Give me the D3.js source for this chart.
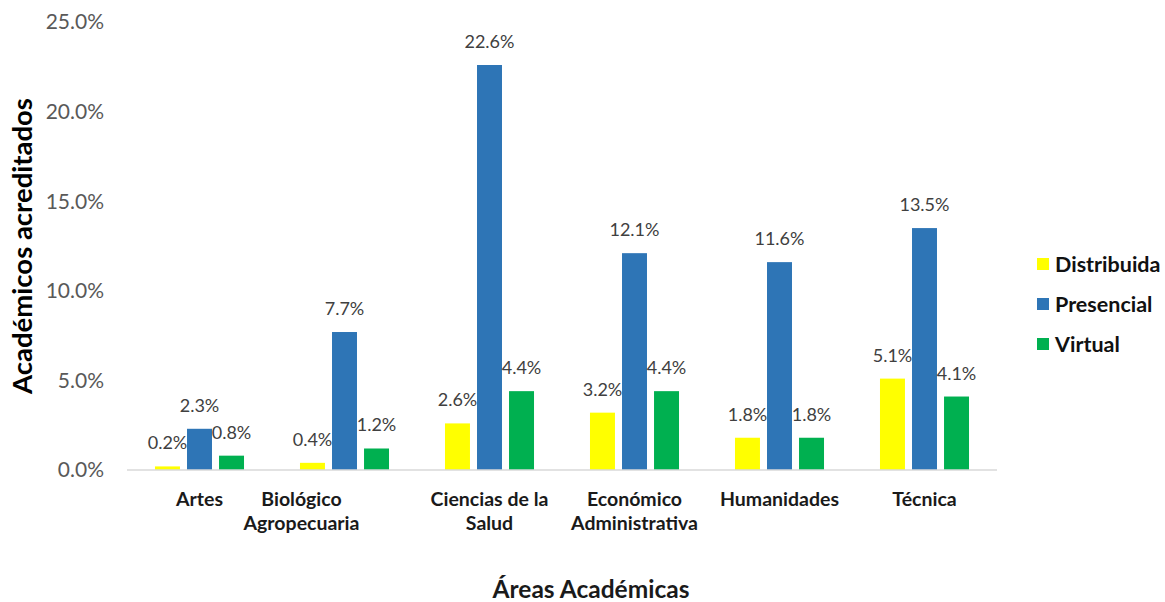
<!DOCTYPE html>
<html>
<head>
<meta charset="utf-8">
<script src="https://cdn.jsdelivr.net/npm/d3@7"></script>
<style>
  body { margin: 0; background: #fff; }
  text { font-family: Lato, "Open Sans", sans-serif; }
</style>
</head>
<body>
<script>
var areas = [["Artes"], ["Biológico", "Agropecuaria"], ["Ciencias de la", "Salud"],
             ["Económico", "Administrativa"], ["Humanidades"], ["Técnica"]];
var series = ["Distribuida", "Presencial", "Virtual"];
var distribuida = [0.2, 0.4, 2.6, 3.2, 1.8, 5.1];
var presencial = [2.3, 7.7, 22.6, 12.1, 11.6, 13.5];
var virtual = [0.8, 1.2, 4.4, 4.4, 1.8, 4.1];
var yTicks = [0, 5, 10, 15, 20, 25];
var colors = ["#FFFF00", "#2E75B6", "#00B050"];

var width = 1165, height = 602;
var margin = {top: 22, left: 127, right: 168, bottom: 132};

var svg = d3.select("body").append("svg")
  .attr("width", width)
  .attr("height", height);

var rows = areas.map(function(a, i) {
  return {key: a.join(" "), lines: a, values: [distribuida[i], presencial[i], virtual[i]]};
});

var x0 = d3.scaleBand()
  .domain(rows.map(function(d) { return d.key; }))
  .range([margin.left, width - margin.right])
  .paddingInner(0.386)
  .paddingOuter(0.193);

var x1 = d3.scaleBand()
  .domain(series)
  .range([0, x0.bandwidth()])
  .paddingInner(0.22);

var y = d3.scaleLinear()
  .domain([0, 25])
  .range([height - margin.bottom, margin.top]);

// y tick labels (no axis line)
svg.append("g")
  .selectAll("text")
  .data(yTicks)
  .enter().append("text")
  .attr("x", 104)
  .attr("y", function(d) { return y(d); })
  .attr("dy", "0.35em")
  .attr("text-anchor", "end")
  .attr("font-size", 21)
  .attr("fill", "#595959")
  .text(function(d) { return d.toFixed(1) + "%"; });

// bars
var groups = svg.append("g")
  .selectAll("g")
  .data(rows)
  .enter().append("g")
  .attr("transform", function(d) { return "translate(" + x0(d.key) + ",0)"; });

groups.selectAll("rect")
  .data(function(d) { return d.values.map(function(v, j) { return {s: series[j], v: v, c: colors[j]}; }); })
  .enter().append("rect")
  .attr("x", function(d) { return x1(d.s); })
  .attr("y", function(d) { return y(d.v); })
  .attr("width", x1.bandwidth())
  .attr("height", function(d) { return y(0) - y(d.v); })
  .attr("fill", function(d) { return d.c; });

groups.selectAll("text")
  .data(function(d) { return d.values.map(function(v, j) { return {s: series[j], v: v}; }); })
  .enter().append("text")
  .attr("x", function(d) { return x1(d.s) + x1.bandwidth() / 2; })
  .attr("y", function(d) { return y(d.v) - 17; })
  .attr("text-anchor", "middle")
  .attr("font-size", 18)
  .attr("fill", "#404040")
  .text(function(d) { return d.v.toFixed(1) + "%"; });

// x axis line
svg.append("line")
  .attr("x1", margin.left)
  .attr("x2", width - margin.right)
  .attr("y1", y(0))
  .attr("y2", y(0))
  .attr("stroke", "#D9D9D9")
  .attr("stroke-width", 1.5);

// category labels (the second one sits left of its bars in the original)
var nudge = {"Biológico Agropecuaria": -43};

var cat = svg.append("g")
  .selectAll("text")
  .data(rows)
  .enter().append("text")
  .attr("text-anchor", "middle")
  .attr("font-size", 19.5)
  .attr("font-weight", "bold")
  .attr("fill", "#1a1a1a")
  .attr("transform", function(d) {
    var cx = x0(d.key) + x0.bandwidth() / 2 + (nudge[d.key] || 0);
    return "translate(" + cx + "," + (y(0) + 36) + ")";
  });

cat.selectAll("tspan")
  .data(function(d) { return d.lines; })
  .enter().append("tspan")
  .attr("x", 0)
  .attr("dy", function(d, i) { return i === 0 ? 0 : 24; })
  .text(function(d) { return d; });

// axis titles
svg.append("text")
  .attr("transform", "translate(32," + (margin.top + y(0)) / 2 + ") rotate(-90)")
  .attr("text-anchor", "middle")
  .attr("font-size", 27.5)
  .attr("font-weight", "bold")
  .attr("fill", "#000")
  .text("Académicos acreditados");

svg.append("text")
  .attr("x", 591)
  .attr("y", 598)
  .attr("text-anchor", "middle")
  .attr("font-size", 24.5)
  .attr("font-weight", "bold")
  .attr("fill", "#1a1a1a")
  .text("Áreas Académicas");

// legend
var legend = svg.append("g")
  .selectAll("g")
  .data(series)
  .enter().append("g")
  .attr("transform", function(d, i) { return "translate(1037," + (258 + i * 40) + ")"; });

legend.append("rect")
  .attr("width", 12)
  .attr("height", 12)
  .attr("fill", function(d, i) { return colors[i]; });

legend.append("text")
  .attr("x", 18)
  .attr("y", 6)
  .attr("dy", "0.35em")
  .attr("font-size", 21.5)
  .attr("font-weight", "bold")
  .attr("fill", "#111")
  .text(function(d) { return d; });
</script>
</body>
</html>
